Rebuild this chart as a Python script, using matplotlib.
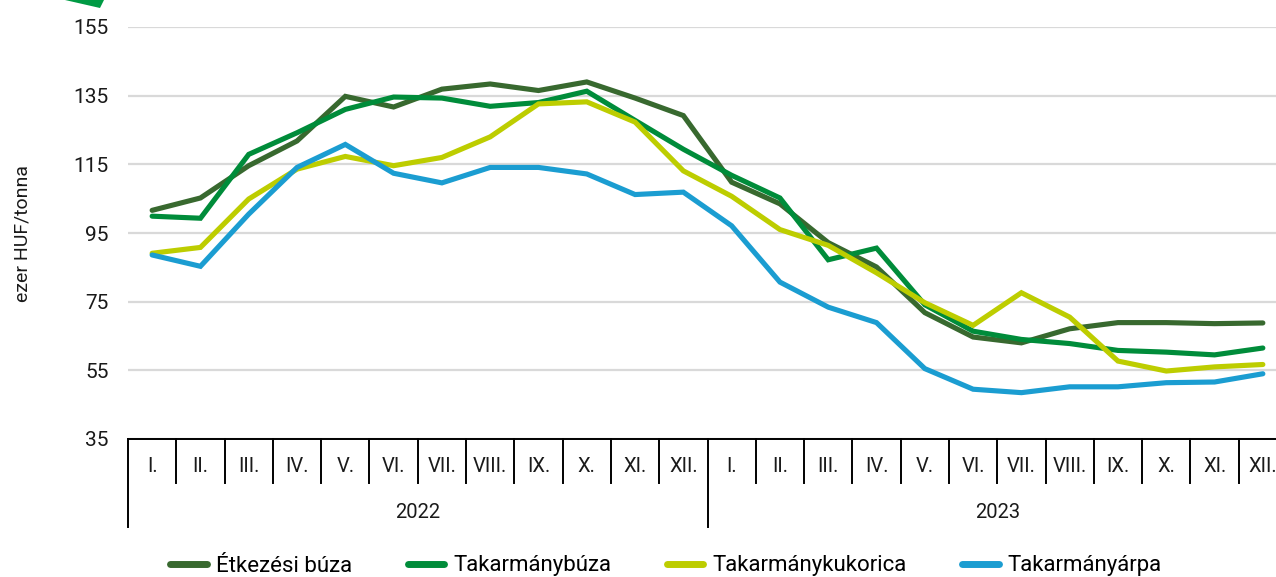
import matplotlib
matplotlib.use("Agg")
import matplotlib.pyplot as plt
from matplotlib.patches import Polygon
from matplotlib.transforms import blended_transform_factory
import numpy as np

plt.rcParams['font.family'] = ['Roboto', 'DejaVu Sans']

months = ["I.", "II.", "III.", "IV.", "V.", "VI.", "VII.", "VIII.", "IX.", "X.", "XI.", "XII."]
years = ["2022", "2023"]

etkezesi_buza = [101.6, 105.2, 114.6, 121.8, 134.8, 131.7, 136.9, 138.4, 136.5, 139.0, 134.3, 129.2,
                 109.8, 103.5, 92.2, 85.1, 71.8, 64.7, 63.0, 67.1, 68.9, 68.9, 68.6, 68.8]
takarmanybuza = [99.9, 99.3, 117.9, 124.2, 131.0, 134.6, 134.3, 131.9, 133.0, 136.3, 127.8, 119.4,
                 111.8, 105.2, 87.2, 90.6, 74.1, 66.4, 64.0, 62.8, 60.8, 60.3, 59.5, 61.5]
takarmanykukorica = [89.1, 90.8, 104.9, 113.6, 117.3, 114.6, 117.0, 123.0, 132.6, 133.2, 127.3, 113.1,
                     105.7, 96.0, 91.4, 83.4, 74.7, 68.1, 77.6, 70.5, 57.7, 54.8, 56.0, 56.7]
takarmanyarpa = [88.6, 85.3, 100.5, 114.1, 120.8, 112.4, 109.6, 114.1, 114.1, 112.2, 106.2, 106.9,
                 97.1, 80.7, 73.4, 68.9, 55.5, 49.5, 48.5, 50.2, 50.2, 51.4, 51.6, 54.0]

series_names = ["Étkezési búza", "Takarmánybúza", "Takarmánykukorica", "Takarmányárpa"]
colors = ["#38692F", "#008C3A", "#BDCD00", "#1B9DD1"]
yticks = [35, 55, 75, 95, 115, 135, 155]

W, H = 1276, 577
fig = plt.figure(figsize=(W / 100, H / 100), dpi=100)
left_px, right_px, top_px, bottom_px = 128, 1287, 27, 439
ax = fig.add_axes([left_px / W, 1 - bottom_px / H, (right_px - left_px) / W, (bottom_px - top_px) / H])

x = np.arange(len(months) * len(years))
for vals, name, c in zip([etkezesi_buza, takarmanybuza, takarmanykukorica, takarmanyarpa], series_names, colors):
    ax.plot(x, vals, color=c, lw=3.7, label=name, solid_capstyle='round', solid_joinstyle='miter', zorder=3)

ax.set_xlim(-0.5, len(x) - 0.5)
ax.set_ylim(35, 155)
ax.set_yticks(yticks)
ax.set_yticklabels([str(v) for v in yticks], fontsize=15, color="#1a1a1a")
ax.tick_params(axis='y', length=0, pad=14)
ax.set_xticks([])
for s in ['top', 'right', 'left']:
    ax.spines[s].set_visible(False)
ax.spines['bottom'].set_color('black')
ax.spines['bottom'].set_linewidth(1.4)
ax.grid(axis='y', color='#D9D9D9', lw=1.6, zorder=0)
ax.set_axisbelow(True)

ax.set_ylabel("ezer HUF/tonna", fontsize=14, color="#1a1a1a", labelpad=30)

trans = blended_transform_factory(ax.transData, ax.transAxes)
axh = bottom_px - top_px
sep1 = -44 / axh
sep2 = -88 / axh
n = len(x)
for k in range(n + 1):
    xx = k - 0.5
    yend = sep2 if k % 12 == 0 else sep1
    ax.plot([xx, xx], [0, yend], color='black', lw=1.4, transform=trans, clip_on=False)
for i in range(n):
    ax.text(i, -28 / axh, months[i % 12], transform=trans, ha='center', va='center', fontsize=14.5, color="#1a1a1a")
for j, yr in enumerate(years):
    ax.text(j * 12 + 5.5, -73 / axh, yr, transform=trans, ha='center', va='center', fontsize=14.5, color="#1a1a1a")

leg = fig.legend(loc='center', bbox_to_anchor=(666 / W, 1 - 566 / H), ncol=4, frameon=False,
                 fontsize=16, handlelength=1.65, handletextpad=0.4, columnspacing=2.5)
for line in leg.get_lines():
    line.set_linewidth(5)
    line.set_solid_capstyle('round')

fig.patches.append(Polygon([[65 / W, 1.0], [104 / W, 1.0], [100 / W, 1 - 8 / H]], closed=True,
                           transform=fig.transFigure, facecolor='#009A44', edgecolor='none'))

fig.savefig("out.png", dpi=100)
